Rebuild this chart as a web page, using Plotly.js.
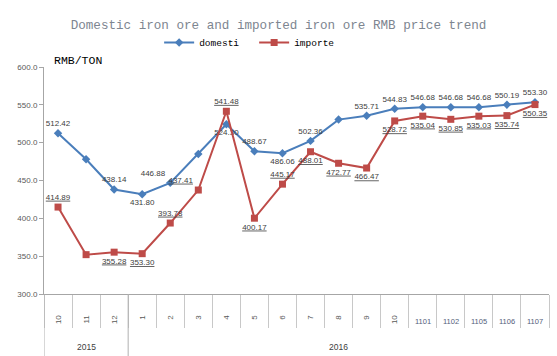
<!DOCTYPE html>
<html><head><meta charset="utf-8">
<script src="https://cdn.plot.ly/plotly-3.0.1.min.js"></script>
<style>html,body{margin:0;padding:0;background:#fff}#chart{width:557px;height:356px}</style>
</head><body><div id="chart"></div>
<script>
// ---- data ----
const years = ['2015','2015','2015','2016','2016','2016','2016','2016','2016','2016','2016','2016','2016','2016','2016','2016','2016','2016'];
const months = ['10','11','12','1','2','3','4','5','6','7','8','9','10','1101','1102','1105','1106','1107'];
const domestic = [512.42, 478.0, 438.14, 431.80, 446.88, 485.0, 524.30, 488.67, 486.06, 502.36, 530.5, 535.71, 544.83, 546.68, 546.68, 546.68, 550.19, 553.30];
const imported = [414.89, 352.0, 355.28, 353.30, 393.78, 437.41, 541.48, 400.17, 445.17, 488.01, 472.77, 466.47, 528.72, 535.04, 530.85, 535.03, 535.74, 550.35];
const seriesNames = ['domesti', 'importe'];
const titleText = 'Domestic iron ore and imported iron ore RMB price trend';
const unitText = 'RMB/TON';

// ---- label styling (which points show a label, and where) ----
const domShow = [1,0,1,1,1,0,1,1,1,1,0,1,1,1,1,1,1,1];
const impShow = [1,0,1,1,1,1,1,1,1,1,1,1,1,1,1,1,1,1];
const domPos = ['top center','top center','top center','bottom center','top left','top center','bottom center','top center','bottom center','top center','top center','top center','top center','top center','top center','top center','top center','top center'];
const impPos = ['top center','bottom center','bottom center','bottom center','top center','top left','top center','bottom center','top center','bottom center','bottom center','bottom center','bottom center','bottom center','bottom center','bottom center','bottom center','bottom center'];

const keys = months.map((m, i) => years[i] + '/' + m + '#' + i);
const blue = '#4A7EBB', red = '#BE4B48';
const labelFont = {family: 'Liberation Sans, Arial, sans-serif', size: 8, color: '#404040'};

const traces = [
  {
    x: keys, y: domestic, name: seriesNames[0], type: 'scatter', mode: 'lines+markers+text',
    line: {color: blue, width: 2},
    marker: {symbol: 'diamond', size: 6.5, color: blue},
    texttemplate: domShow.map(s => s ? '%{y:.2f}' : ''),
    textposition: domPos,
    textfont: labelFont,
    cliponaxis: false
  },
  {
    x: keys, y: imported, name: seriesNames[1], type: 'scatter', mode: 'lines+markers+text',
    line: {color: red, width: 2},
    marker: {symbol: 'square', size: 7, color: red},
    texttemplate: impShow.map(s => s ? '<u>%{y:.2f}</u>' : ''),
    textposition: impPos,
    textfont: labelFont,
    cliponaxis: false
  }
];

// tick labels: short month labels rotated on the axis, long ones drawn flat
const tickText = months.map(m => m.length > 2 ? '' : m);
const annotations = [];
months.forEach((m, i) => {
  if (m.length > 2) {
    annotations.push({xref: 'x', yref: 'paper', x: keys[i], y: -0.123, text: m, showarrow: false,
      yanchor: 'middle', font: {family: 'Liberation Sans, Arial, sans-serif', size: 7.5, color: '#53607a'}});
  }
});
// year groups
const shapes = [];
const groups = [];
years.forEach((y, i) => {
  if (!groups.length || groups[groups.length - 1].year !== y) groups.push({year: y, first: i, last: i});
  else groups[groups.length - 1].last = i;
});
groups.forEach(g => {
  annotations.push({xref: 'x', yref: 'paper', x: (g.first + g.last) / 2, y: -0.233, text: g.year, showarrow: false,
    yanchor: 'middle', font: {family: 'Liberation Sans, Arial, sans-serif', size: 8.5, color: '#404040'}});
  shapes.push({type: 'line', xref: 'x', yref: 'paper', x0: g.first - 0.5, x1: g.first - 0.5, y0: 0, y1: -0.28,
    line: {color: '#b0b0b0', width: 1}});
});
annotations.push({xref: 'paper', yref: 'paper', x: 0.016, y: 0.99, xanchor: 'left', yanchor: 'bottom',
  text: unitText, showarrow: false, font: {family: 'Liberation Mono, monospace', size: 11.5, color: '#000'}});

const layout = {
  width: 557, height: 356,
  margin: {l: 44, r: 8, t: 67, b: 62},
  paper_bgcolor: '#fff', plot_bgcolor: '#fff',
  title: {text: titleText, xref: 'container', x: 0.5, xanchor: 'center', yref: 'container', y: 0.932, yanchor: 'middle',
    font: {family: 'Liberation Mono, monospace', size: 12.6, color: '#7d8590'}},
  showlegend: true,
  legend: {orientation: 'h', x: 0.228, xanchor: 'left', y: 1.172, yanchor: 'top',
    entrywidth: 50, entrywidthmode: 'pixels',
    font: {family: 'Liberation Mono, monospace', size: 9.5, color: '#000'}, bgcolor: 'rgba(0,0,0,0)'},
  xaxis: {
    type: 'category', range: [-0.5, months.length - 0.5], tickvals: keys, ticktext: tickText,
    tickangle: -90, tickson: 'boundaries', ticks: 'outside', ticklen: 33, tickcolor: '#c8c8c8', tickwidth: 1,
    ticklabelstandoff: 17,
    showline: true, linecolor: '#a6a6a6', linewidth: 1, showgrid: false, zeroline: false,
    tickfont: {family: 'Liberation Sans, Arial, sans-serif', size: 8, color: '#595959'}, fixedrange: true
  },
  yaxis: {
    range: [300, 600], tickvals: [300, 350, 400, 450, 500, 550, 600], tickformat: '.1f',
    showline: true, linecolor: '#a6a6a6', linewidth: 1, ticks: 'outside', ticklen: 4, tickcolor: '#a6a6a6',
    showgrid: false, zeroline: false,
    tickfont: {family: 'Liberation Sans, Arial, sans-serif', size: 8, color: '#595959'}, fixedrange: true
  },
  annotations: annotations,
  shapes: shapes
};
Plotly.newPlot('chart', traces, layout, {displayModeBar: false, staticPlot: true});
</script>
</body></html>
